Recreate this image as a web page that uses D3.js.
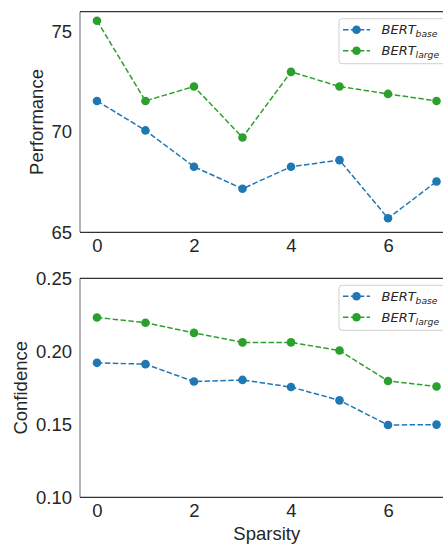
<!DOCTYPE html>
<html><head><meta charset="utf-8">
<script src="https://cdn.jsdelivr.net/npm/d3@7"></script>
<style>body{margin:0;background:#fff}svg{display:block}</style>
</head><body>
<svg id="c" width="443" height="544"></svg>
<script>
const sparsity = [0,1,2,3,4,5,6,7];
const perfBase  = [71.55,70.08,68.27,67.17,68.27,68.6,65.7,67.53];
const perfLarge = [75.55,71.55,72.27,69.73,73.0,72.27,71.9,71.55];
const confBase  = [0.1921,0.1912,0.1793,0.1804,0.1755,0.1664,0.1495,0.1498];
const confLarge = [0.2232,0.2196,0.2126,0.2061,0.2061,0.2005,0.1797,0.1759];
const xTicks = [0,2,4,6];
const perfTicks = [65,70,75];
const confTicks = [0.10,0.15,0.20,0.25];
const seriesNames = [["BERT","base"],["BERT","large"]];
const colors = ["#1f77b4","#2ca02c"];

const svg = d3.select("#c");
const x = d3.scaleLinear().domain([-0.35,7.35]).range([80,453.5]);
const font = "'Liberation Sans', Arial, sans-serif";

function panel(top, bottom, yDomain, yTicks, fmt, data, yLabel, yLabelX, xLabel){
  const y = d3.scaleLinear().domain(yDomain).range([bottom, top]);
  const g = svg.append("g");
  // spines
  g.append("line").attr("x1",80).attr("x2",80).attr("y1",top).attr("y2",bottom)
    .attr("stroke","#8a8a8a").attr("stroke-width",1.3);
  g.append("line").attr("x1",80).attr("x2",455).attr("y1",top).attr("y2",top)
    .attr("stroke","#333").attr("stroke-width",1.2);
  g.append("line").attr("x1",80).attr("x2",455).attr("y1",bottom).attr("y2",bottom)
    .attr("stroke","#333").attr("stroke-width",1.2);
  // axes (no tick marks)
  const ya = d3.axisLeft(y).tickValues(yTicks).tickFormat(fmt).tickSize(0).tickPadding(8);
  const yg = g.append("g").attr("transform","translate(80,0)").call(ya);
  yg.select(".domain").remove();
  yg.selectAll("text").attr("font-family",font).attr("font-size",18.5).attr("fill","#262626");
  const xa = d3.axisBottom(x).tickValues(xTicks).tickFormat(d3.format("d")).tickSize(0).tickPadding(7);
  const xg = g.append("g").attr("transform",`translate(0,${bottom})`).call(xa);
  xg.select(".domain").remove();
  xg.selectAll("text").attr("font-family",font).attr("font-size",18.5).attr("fill","#262626");
  // y label
  g.append("text").attr("transform",`translate(${yLabelX},${(top+bottom)/2}) rotate(-90)`)
    .attr("text-anchor","middle").attr("dominant-baseline","central")
    .attr("font-family",font).attr("font-size",18.5).attr("fill","#262626").text(yLabel);
  if (xLabel){
    g.append("text").attr("x",(80+453.5)/2).attr("y",bottom+43)
      .attr("text-anchor","middle").attr("font-family",font).attr("font-size",18.5)
      .attr("fill","#262626").text(xLabel);
  }
  // lines
  const line = d3.line().x((d,i)=>x(sparsity[i])).y(d=>y(d));
  data.forEach((vals,k)=>{
    g.append("path").datum(vals).attr("d",line).attr("fill","none")
      .attr("stroke",colors[k]).attr("stroke-width",1.5).attr("stroke-dasharray","5.5,2.4");
    g.selectAll(null).data(vals).enter().append("circle")
      .attr("cx",(d,i)=>x(sparsity[i])).attr("cy",d=>y(d)).attr("r",4.3).attr("fill",colors[k]);
  });
  // legend
  const lg = g.append("g");
  lg.append("rect").attr("x",339).attr("y",top+7).attr("width",120).attr("height",45)
    .attr("rx",3).attr("fill","#fff").attr("fill-opacity",0.85).attr("stroke","#d0d0d0").attr("stroke-width",1);
  seriesNames.forEach((nm,k)=>{
    const cy = top + 18 + k*21;
    lg.append("line").attr("x1",343).attr("x2",370).attr("y1",cy).attr("y2",cy)
      .attr("stroke",colors[k]).attr("stroke-width",1.5).attr("stroke-dasharray","5.5,2.4");
    lg.append("circle").attr("cx",356.5).attr("cy",cy).attr("r",4.3).attr("fill",colors[k]);
    const t = lg.append("text").attr("x",381.5).attr("y",cy+4.5)
      .attr("font-family","'DejaVu Sans', sans-serif").attr("font-style","italic")
      .attr("font-size",13).attr("fill","#262626");
    t.append("tspan").text(nm[0]);
    t.append("tspan").attr("font-size",9.2).attr("dy",2.8).text(nm[1]);
  });
}

panel(11.7, 232.3, [65,76], perfTicks, d3.format("d"), [perfBase, perfLarge], "Performance", 36, null);
panel(278.3, 497.3, [0.10,0.25], confTicks, d3.format(".2f"), [confBase, confLarge], "Confidence", 20, "Sparsity");
</script>
</body></html>
